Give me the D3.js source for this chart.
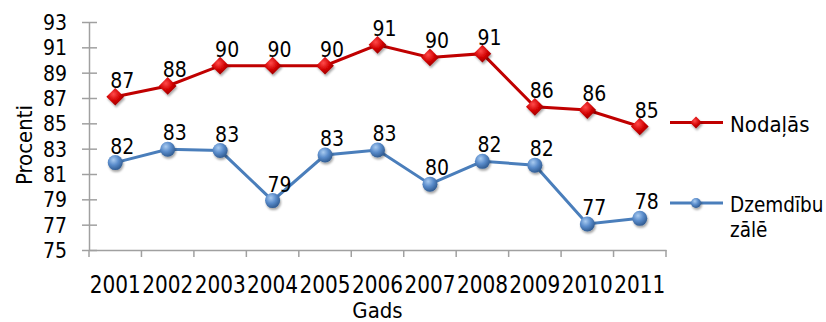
<!DOCTYPE html>
<html lang='lv'>

<head>
    <meta charset='utf-8'>
    <title>Procenti</title>
    <style>
        body {
            margin: 0;
            background-color: #ffffff;
        }

        svg {
            display: block;
            font-family: 'DejaVu Sans Condensed', 'DejaVu Sans', sans-serif;
            font-stretch: condensed;
        }
    </style>
    <script src='https://d3js.org/d3.v7.min.js' charset='utf-8'></script>
</head>

<body>
    <div id='placeholder'></div>
    <script type="text/javascript">
        const WIDTH = 826;
        const HEIGHT = 322;
        const FONT = "'DejaVu Sans Condensed', 'DejaVu Sans', sans-serif";

        var years = ['2001', '2002', '2003', '2004', '2005', '2006', '2007', '2008', '2009', '2010', '2011'];
        var nodalas = [87.1, 87.95, 89.55, 89.55, 89.55, 91.2, 90.2, 90.5, 86.3, 86.05, 84.75];
        var dzemdibu = [81.9, 82.95, 82.85, 78.9, 82.5, 82.9, 80.2, 82.0, 81.7, 77.05, 77.5];
        var yTicks = [75, 77, 79, 81, 83, 85, 87, 89, 91, 93];
        var seriesNames = ['Nodaļās', 'Dzemdību zālē'];

        var margin = { left: 89, right: 160, top: 22, bottom: 72 };

        var x = d3.scaleBand()
            .domain(years)
            .range([margin.left, WIDTH - margin.right])
            .padding(0);

        var y = d3.scaleLinear()
            .domain([75, 93])
            .range([HEIGHT - margin.bottom, margin.top]);

        var svg = d3.select('#placeholder')
            .append('svg')
            .attr('width', WIDTH)
            .attr('height', HEIGHT);

        // gradients and shadow for the markers
        var defs = svg.append('defs');

        var redGrad = defs.append('radialGradient')
            .attr('id', 'redGrad')
            .attr('cx', '40%').attr('cy', '35%').attr('r', '70%');
        redGrad.append('stop').attr('offset', '0%').attr('stop-color', '#ff4a4a');
        redGrad.append('stop').attr('offset', '55%').attr('stop-color', '#d00000');
        redGrad.append('stop').attr('offset', '100%').attr('stop-color', '#8e0000');

        var blueGrad = defs.append('radialGradient')
            .attr('id', 'blueGrad')
            .attr('cx', '38%').attr('cy', '32%').attr('r', '70%');
        blueGrad.append('stop').attr('offset', '0%').attr('stop-color', '#a9cbf0');
        blueGrad.append('stop').attr('offset', '50%').attr('stop-color', '#5a8ccb');
        blueGrad.append('stop').attr('offset', '100%').attr('stop-color', '#2f5a90');

        var shadow = defs.append('filter')
            .attr('id', 'shadow')
            .attr('x', '-50%').attr('y', '-50%')
            .attr('width', '200%').attr('height', '200%');
        shadow.append('feDropShadow')
            .attr('dx', 1).attr('dy', 2)
            .attr('stdDeviation', 1.3)
            .attr('flood-color', '#000')
            .attr('flood-opacity', 0.35);

        // axes
        var yAxis = d3.axisLeft(y)
            .tickValues(yTicks)
            .tickSize(0)
            .tickPadding(22);

        var gy = svg.append('g')
            .attr('transform', 'translate(' + margin.left + ',0)')
            .call(yAxis);
        gy.attr('font-family', FONT);
        gy.select('.domain').attr('stroke', '#a0a0a0').attr('stroke-width', 1.5);
        gy.selectAll('.tick line').remove();
        gy.selectAll('.tick')
            .append('line')
            .attr('x1', -7)
            .attr('x2', 8)
            .attr('stroke', '#a0a0a0')
            .attr('stroke-width', 1.5);
        gy.selectAll('.tick text')
            .attr('font-size', '21px')
            .attr('fill', '#000')
            .attr('dy', '0.36em');

        var xAxis = d3.axisBottom(x)
            .tickSize(0);

        var gx = svg.append('g')
            .attr('transform', 'translate(0,' + y(75) + ')')
            .call(xAxis);
        gx.attr('font-family', FONT);
        gx.select('.domain').attr('stroke', '#a0a0a0').attr('stroke-width', 1.5);
        gx.selectAll('.tick text')
            .attr('y', 43)
            .attr('dy', 0)
            .attr('font-size', '24px')
            .attr('fill', '#000')
            .attr('textLength', 51)
            .attr('lengthAdjust', 'spacingAndGlyphs');

        // tick marks at band edges
        gx.selectAll('.edge')
            .data(years.concat(['end']))
            .enter()
            .append('line')
            .attr('x1', function (d, i) { return margin.left + i * x.bandwidth(); })
            .attr('x2', function (d, i) { return margin.left + i * x.bandwidth(); })
            .attr('y1', 0)
            .attr('y2', 7)
            .attr('stroke', '#a0a0a0')
            .attr('stroke-width', 1.5);

        // axis titles
        svg.append('text')
            .text('Procenti')
            .attr('transform', 'translate(32,' + 145 + ') rotate(-90)')
            .attr('text-anchor', 'middle')
            .attr('font-size', '22px');

        svg.append('text')
            .text('Gads')
            .attr('x', (margin.left + WIDTH - margin.right) / 2)
            .attr('y', 318)
            .attr('text-anchor', 'middle')
            .attr('font-size', '22px');

        function cx(d, i) {
            return x(years[i]) + x.bandwidth() / 2;
        }

        var line = d3.line()
            .x(cx)
            .y(function (d) { return y(d); });

        var diamond = d3.symbol().type(d3.symbolDiamond2).size(200);
        var smallDiamond = d3.symbol().type(d3.symbolDiamond2).size(90);

        // Nodaļās series
        svg.append('path')
            .datum(nodalas)
            .attr('d', line)
            .attr('fill', 'none')
            .attr('stroke', '#c00000')
            .attr('stroke-width', 3);

        svg.selectAll('.redMark')
            .data(nodalas)
            .enter()
            .append('path')
            .attr('class', 'redMark')
            .attr('d', diamond)
            .attr('transform', function (d, i) {
                return 'translate(' + cx(d, i) + ',' + y(d) + ')';
            })
            .attr('fill', 'url(#redGrad)')
            .attr('filter', 'url(#shadow)');

        svg.selectAll('.redLabel')
            .data(nodalas)
            .enter()
            .append('text')
            .attr('class', 'redLabel')
            .text(function (d) { return Math.round(d); })
            .attr('x', function (d, i) { return cx(d, i) + 7; })
            .attr('y', function (d) { return y(d) - 9; })
            .attr('text-anchor', 'middle')
            .attr('font-size', '21px');

        // Dzemdību zālē series
        svg.append('path')
            .datum(dzemdibu)
            .attr('d', line)
            .attr('fill', 'none')
            .attr('stroke', '#4a7ebb')
            .attr('stroke-width', 3);

        svg.selectAll('.blueMark')
            .data(dzemdibu)
            .enter()
            .append('circle')
            .attr('class', 'blueMark')
            .attr('cx', cx)
            .attr('cy', function (d) { return y(d); })
            .attr('r', 7.5)
            .attr('fill', 'url(#blueGrad)')
            .attr('filter', 'url(#shadow)');

        svg.selectAll('.blueLabel')
            .data(dzemdibu)
            .enter()
            .append('text')
            .attr('class', 'blueLabel')
            .text(function (d) { return Math.round(d); })
            .attr('x', function (d, i) { return cx(d, i) + 7; })
            .attr('y', function (d) { return y(d) - 9; })
            .attr('text-anchor', 'middle')
            .attr('font-size', '21px');

        // legend
        var legend = svg.append('g');

        legend.append('line')
            .attr('x1', 670).attr('x2', 723)
            .attr('y1', 122.5).attr('y2', 122.5)
            .attr('stroke', '#c00000')
            .attr('stroke-width', 3);
        legend.append('path')
            .attr('d', smallDiamond)
            .attr('transform', 'translate(696,122.5)')
            .attr('fill', 'url(#redGrad)')
            .attr('filter', 'url(#shadow)');
        legend.append('text')
            .text(seriesNames[0])
            .attr('x', 730)
            .attr('y', 131.5)
            .attr('font-size', '22px');

        legend.append('line')
            .attr('x1', 670).attr('x2', 723)
            .attr('y1', 203).attr('y2', 203)
            .attr('stroke', '#4a7ebb')
            .attr('stroke-width', 3);
        legend.append('circle')
            .attr('cx', 696).attr('cy', 203)
            .attr('r', 5)
            .attr('fill', 'url(#blueGrad)')
            .attr('filter', 'url(#shadow)');
        var lt = legend.append('text')
            .attr('x', 730)
            .attr('y', 211.5)
            .attr('font-size', '20.5px');
        lt.append('tspan').text(seriesNames[1].split(' ')[0]);
        lt.append('tspan').attr('x', 730).attr('dy', 25).text(seriesNames[1].split(' ')[1]);
    </script>
</body>

</html>
